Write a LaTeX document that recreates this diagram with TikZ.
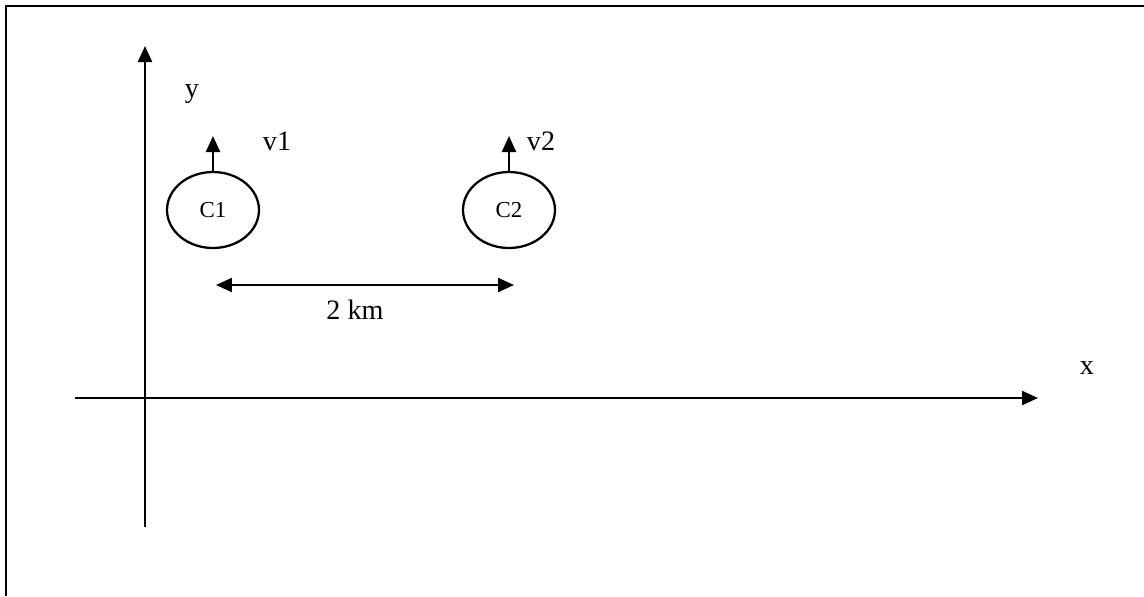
\documentclass[tikz,border=0pt]{standalone}
\usepackage{fontspec}
\setmainfont{Liberation Serif}
\usetikzlibrary{arrows.meta,shapes.geometric}
\begin{document}
\begin{tikzpicture}[
    x=0.02cm, y=-0.02cm,
    line width=1.3pt,
    car/.style={ellipse, draw, inner sep=0pt, minimum width=1.84cm, minimum height=1.52cm, font=\fontsize{13}{15}\selectfont},
    lbl/.style={inner sep=0pt, font=\fontsize{16}{18}\selectfont},
    arrow/.style={-{Triangle[length=0.32cm,width=0.28cm]}},
    twoway/.style={{Triangle[length=0.32cm,width=0.28cm]}-{Triangle[length=0.32cm,width=0.28cm]}}
]
\useasboundingbox (0,0) rectangle (1144,596);

% Frame
\draw[line width=1.6pt] (6,596) -- (6,6) -- (1144,6);

% Axes
\coordinate (xstart) at (75,398);
\coordinate (xend) at (1038,398);
\coordinate (ystart) at (145,527);
\coordinate (yend) at (145,46);
\draw[arrow] (xstart) -- (xend);
\draw[arrow] (ystart) -- (yend);
\node[lbl] (xlabel) at (1087,368) {x};
\node[lbl] (ylabel) at (192,94) {y};

% Cars
\node[car] (c1) at (213,210) {C1};
\node[car] (c2) at (509,210) {C2};

% Velocities
\coordinate (v1tip) at (c1.north |- 0,136);
\coordinate (v2tip) at (c2.north |- 0,136);
\draw[arrow] (c1.north) -- (v1tip);
\draw[arrow] (c2.north) -- (v2tip);
\node[lbl] (v1) at (277,141) {v1};
\node[lbl] (v2) at (541,141) {v2};

% Distance
\coordinate (dleft) at (216,285);
\coordinate (dright) at (514,285);
\draw[twoway] (dleft) -- (dright);
\node[lbl] (dist) at (355,310) {2 km};

\end{tikzpicture}
\end{document}
